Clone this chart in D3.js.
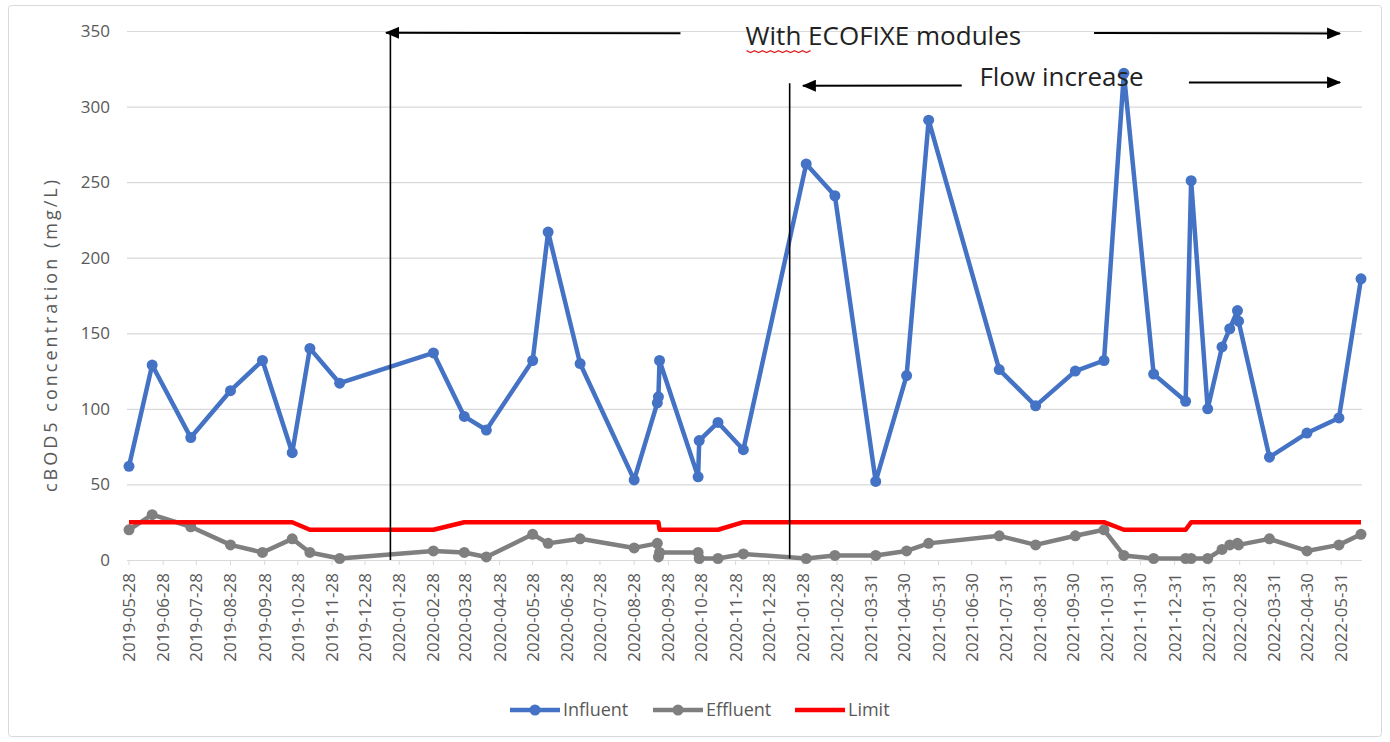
<!DOCTYPE html>
<html>
<head>
<meta charset="utf-8">
<script src="https://cdn.jsdelivr.net/npm/d3@7"></script>
<style>
  body { margin: 0; background: #fff; }
  text { font-family: "Open Sans", sans-serif; }
</style>
</head>
<body>
<svg id="chart" width="1390" height="742"></svg>
<script>
// sample dates (Excel date axis)
var dates = ["2019-05-28","2019-06-18","2019-07-23","2019-08-28","2019-09-26","2019-10-23","2019-11-08","2019-12-05",
	"2020-02-28","2020-03-27","2020-04-16","2020-05-28","2020-06-11","2020-07-10","2020-08-28","2020-09-18",
	"2020-09-19","2020-09-20","2020-10-25","2020-10-26","2020-11-12","2020-12-05","2021-01-31","2021-02-26",
	"2021-04-04","2021-05-02","2021-05-22","2021-07-25","2021-08-27","2021-10-02","2021-10-28","2021-11-15",
	"2021-12-12","2022-01-10","2022-01-15","2022-01-30","2022-02-12","2022-02-19","2022-02-26","2022-02-27",
	"2022-03-27","2022-04-30","2022-05-29","2022-06-18"];

var influent = [62,129,81,112,132,71,140,117,137,95,86,132,217,130,53,104,108,132,55,79,
	91,73,262,241,52,122,291,126,102,125,132,322,123,105,251,100,141,153,165,158,68,84,94,186];

var effluent = [20,30,22,10,5,14,5,1,6,5,2,17,11,14,8,11,2,5,5,1,
	1,4,1,3,3,6,11,16,10,16,20,3,1,1,1,1,7,10,11,10,14,6,10,17];

var limit = [25,25,25,25,25,25,20,20,20,25,25,25,25,25,25,25,25,20,20,20,
	20,25,25,25,25,25,25,25,25,25,25,20,20,20,25,25,25,25,25,25,25,25,25,25];

var tickDates = ["2019-05-28","2019-06-28","2019-07-28","2019-08-28","2019-09-28","2019-10-28","2019-11-28","2019-12-28",
	"2020-01-28","2020-02-28","2020-03-28","2020-04-28","2020-05-28","2020-06-28","2020-07-28","2020-08-28",
	"2020-09-28","2020-10-28","2020-11-28","2020-12-28","2021-01-28","2021-02-28","2021-03-31","2021-04-30",
	"2021-05-31","2021-06-30","2021-07-31","2021-08-31","2021-09-30","2021-10-31","2021-11-30","2021-12-31",
	"2022-01-31","2022-02-28","2022-03-31","2022-04-30","2022-05-31"];

var yTicks = [0,50,100,150,200,250,300,350];

var seriesNames = ["Influent","Effluent","Limit"];
var seriesColors = ["#4472c4","#7f7f7f","#ff0000"];

var parse = d3.timeParse("%Y-%m-%d");

var svg = d3.select("#chart");

// chart frame
svg.append("rect")
	.attr("x", 8.5).attr("y", 5.5)
	.attr("width", 1373).attr("height", 731)
	.attr("rx", 3)
	.attr("fill", "#fff")
	.style("stroke", "#d9d9d9");

var x = d3.scaleTime()
	.domain(d3.extent(dates, parse))
	.range([129, 1361]);

var y = d3.scaleLinear()
	.domain([0, 350])
	.range([560, 31]);

// gridlines
svg.append("g")
	.selectAll("line")
	.data(yTicks)
	.enter()
	.append("line")
	.attr("x1", 127).attr("x2", 1362)
	.attr("y1", function(d) { return y(d) + 0.5; })
	.attr("y2", function(d) { return y(d) + 0.5; })
	.style("stroke", "#d9d9d9")
	.style("stroke-width", 1.2);

// y tick labels
svg.append("g")
	.selectAll("text")
	.data(yTicks)
	.enter()
	.append("text")
	.attr("x", 110)
	.attr("y", function(d) { return y(d); })
	.attr("dy", "0.35em")
	.attr("text-anchor", "end")
	.style("font-size", "17px")
	.style("fill", "#595959")
	.text(function(d) { return d; });

// x axis ticks + rotated labels
var xTickG = svg.append("g")
	.selectAll("g")
	.data(tickDates)
	.enter()
	.append("g")
	.attr("transform", function(d) { return "translate(" + x(parse(d)) + ",560)"; });

xTickG.append("line")
	.attr("y1", 0).attr("y2", 5)
	.style("stroke", "#d9d9d9");

xTickG.append("text")
	.attr("transform", "translate(0,13) rotate(-90)")
	.attr("dy", "0.35em")
	.attr("text-anchor", "end")
	.style("font-size", "17px")
	.style("fill", "#595959")
	.text(function(d) { return d; });

// y axis title
svg.append("text")
	.attr("transform", "translate(57,336) rotate(-90)")
	.attr("text-anchor", "middle")
	.attr("textLength", 312)
	.attr("lengthAdjust", "spacing")
	.style("font-size", "18px")
	.style("fill", "#595959")
	.text("cBOD5 concentration (mg/L)");

// series
var rows = dates.map(function(d, i) {
	return { date: parse(d), values: [influent[i], effluent[i], limit[i]] };
});

seriesNames.forEach(function(name, s) {
	var line = d3.line()
		.x(function(d) { return x(d.date); })
		.y(function(d) { return y(d.values[s]); });

	var g = svg.append("g").attr("class", "series");
	g.append("path")
		.datum(rows)
		.attr("d", line)
		.attr("fill", "none")
		.style("stroke", seriesColors[s])
		.style("stroke-width", 4.5)
		.style("stroke-linejoin", "round");

	if (s < 2) {
		g.selectAll("circle")
			.data(rows)
			.enter()
			.append("circle")
			.attr("cx", function(d) { return x(d.date); })
			.attr("cy", function(d) { return y(d.values[s]); })
			.attr("r", 5.5)
			.attr("fill", seriesColors[s]);
	}
});

// annotations (arrows, period lines)
var defs = svg.append("defs");
defs.append("marker")
	.attr("id", "arrow")
	.attr("markerUnits", "userSpaceOnUse")
	.attr("viewBox", "0 -6 14 12")
	.attr("refX", 13)
	.attr("refY", 0)
	.attr("markerWidth", 14)
	.attr("markerHeight", 12)
	.attr("orient", "auto")
	.append("path")
	.attr("d", "M0,-6L14,0L0,6Z")
	.attr("fill", "#000");

var periodLines = [
	{ date: "2020-01-20", top: 349, bottom: 0 },
	{ date: "2021-01-16", top: 315.5, bottom: 1 }
];
svg.append("g")
	.selectAll("line")
	.data(periodLines)
	.enter()
	.append("line")
	.attr("x1", function(d) { return x(parse(d.date)); })
	.attr("x2", function(d) { return x(parse(d.date)); })
	.attr("y1", function(d) { return y(d.top); })
	.attr("y2", function(d) { return y(d.bottom); })
	.style("stroke", "#000")
	.style("stroke-width", 1.6);

var arrows = [
	{ from: "2020-10-09", to: "2020-01-16", v1: 348.5, v2: 348.8 },
	{ from: "2021-10-19", to: "2022-05-30", v1: 348.6, v2: 348.4 },
	{ from: "2021-06-21", to: "2021-01-28", v1: 314, v2: 313.8 },
	{ from: "2022-01-13", to: "2022-05-30", v1: 316, v2: 316 }
];
svg.append("g")
	.selectAll("line")
	.data(arrows)
	.enter()
	.append("line")
	.attr("x1", function(d) { return x(parse(d.from)); })
	.attr("x2", function(d) { return x(parse(d.to)); })
	.attr("y1", function(d) { return y(d.v1); })
	.attr("y2", function(d) { return y(d.v2); })
	.style("stroke", "#000")
	.style("stroke-width", 2)
	.attr("marker-end", "url(#arrow)");

var labels = [
	{ date: "2020-12-07", value: 341, text: "With ECOFIXE modules" },
	{ date: "2021-07-07", value: 313.5, text: "Flow increase" }
];
svg.append("g")
	.selectAll("text")
	.data(labels)
	.enter()
	.append("text")
	.attr("x", function(d) { return x(parse(d.date)); })
	.attr("y", function(d) { return y(d.value); })
	.style("font-size", "26px")
	.style("fill", "#222")
	.text(function(d) { return d.text; });

// spell-check squiggle under "With"
var sq0 = x(parse(labels[0].date)) + 1, sqY = y(labels[0].value) + 6;
var sq = d3.path();
sq.moveTo(sq0, sqY);
for (var k = 1; k <= 16; k++) {
	sq.lineTo(sq0 + k * 4, sqY + (k % 2 ? 2 : 0));
}
svg.append("path")
	.attr("d", sq.toString())
	.attr("fill", "none")
	.style("stroke", "#e02020")
	.style("stroke-width", 1.2);

// legend
var legendX = [510, 653, 795];
var legend = svg.append("g")
	.selectAll("g")
	.data(seriesNames)
	.enter()
	.append("g")
	.attr("transform", function(d, i) { return "translate(" + legendX[i] + ",710)"; });

legend.append("line")
	.attr("x1", 0).attr("x2", 50)
	.style("stroke", function(d, i) { return seriesColors[i]; })
	.style("stroke-width", 4.5);

legend.filter(function(d, i) { return i < 2; })
	.append("circle")
	.attr("cx", 25)
	.attr("r", 5.5)
	.attr("fill", function(d) { return seriesColors[seriesNames.indexOf(d)]; });

legend.append("text")
	.attr("x", 53)
	.attr("dy", "0.35em")
	.style("font-size", "18px")
	.style("fill", "#595959")
	.text(function(d) { return d; });
</script>
</body>
</html>
